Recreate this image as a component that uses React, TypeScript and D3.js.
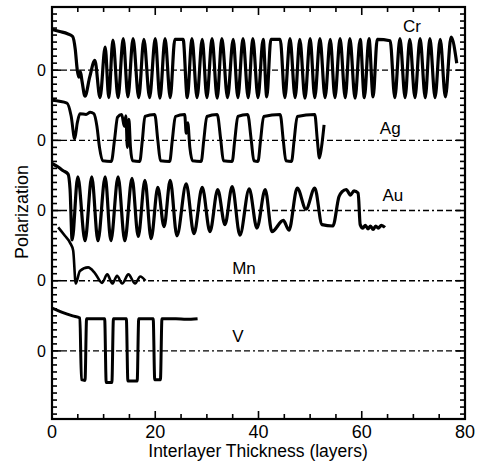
import React, { useEffect } from 'react'
import * as d3 from 'd3'

// layers on the x axis, panel offsets on y (V = 0 ... Cr = 4)
const xTicks = [0, 20, 40, 60, 80]
const panelNames = ['V', 'Mn', 'Au', 'Ag', 'Cr']

// [interlayer thickness (layers), polarization relative to the panel zero]
const crData: [number, number][] = [
  [0, 0.58], [1.5, 0.55], [3.0, 0.52], [4.0, 0.48], [4.5, 0.3], [4.9, 0.0], [5.2, -0.1], [5.5, -0.02],
  [5.8, -0.15], [6.4, -0.37], [7.3, -0.1], [8.3, 0.14], [9.3, -0.39], [10.3, 0.33], [11.0, -0.39],
  [11.8, 0.43], [12.8, -0.39], [13.8, 0.45], [14.7, -0.38], [15.7, 0.45], [16.8, -0.39], [17.8, 0.44],
  [18.9, -0.39], [20.0, 0.45], [20.9, -0.4], [21.9, 0.45], [22.9, -0.39], [23.8, 0.44], [25.4, 0.44],
  [26.2, -0.39], [27.1, 0.45], [28.1, -0.39], [29.1, 0.44], [30.0, -0.39], [31.0, 0.45], [32.0, -0.4],
  [32.9, 0.45], [34.0, -0.39], [35.1, 0.44], [36.0, -0.39], [37.0, 0.45], [38.0, -0.39], [38.9, 0.45],
  [39.9, -0.39], [40.9, 0.44], [41.6, -0.38], [42.4, 0.44], [44.2, 0.44], [45.1, -0.39], [46.1, 0.45],
  [47.1, -0.39], [48.0, 0.44], [49.0, -0.4], [50.0, 0.45], [50.9, -0.39], [51.9, 0.45], [52.9, -0.39],
  [53.9, 0.44], [54.8, -0.39], [55.8, 0.45], [56.8, -0.39], [57.7, 0.45], [58.7, -0.4], [59.7, 0.44],
  [60.5, -0.39], [61.4, 0.45], [62.2, -0.38], [63.0, 0.44], [65.5, 0.42], [66.4, -0.39], [67.4, 0.45],
  [68.4, -0.39], [69.3, 0.44], [70.3, -0.39], [71.3, 0.45], [72.3, -0.39], [73.2, 0.45], [74.2, -0.39],
  [75.2, 0.44], [76.2, -0.38], [77.3, 0.47], [78.4, 0.1],
]

const agData: [number, number][] = [
  [0, 0.57], [2.9, 0.53], [3.7, 0.35], [4.4, 0.02], [4.9, 0.25], [5.4, 0.38], [6.6, 0.37], [7.4, 0.4],
  [8.1, 0.38], [8.7, 0.2], [9.2, -0.1], [9.8, -0.29], [11.5, -0.3], [12.1, 0.0], [12.7, 0.33],
  [13.5, 0.37], [14.0, 0.2], [14.3, 0.35], [14.6, -0.1], [14.9, 0.3], [15.2, -0.1], [15.6, -0.29],
  [17.0, -0.3], [17.5, 0.0], [18.0, 0.34], [19.9, 0.37], [20.5, 0.0], [21.0, -0.29], [22.8, -0.3],
  [23.3, 0.0], [23.9, 0.34], [25.7, 0.37], [26.0, 0.1], [26.3, 0.25], [26.7, -0.1], [27.2, -0.29],
  [28.9, -0.3], [29.4, 0.0], [30.0, 0.34], [32.0, 0.37], [32.7, 0.0], [33.2, -0.29], [34.9, -0.3],
  [35.4, 0.0], [36.0, 0.34], [37.9, 0.37], [38.6, 0.0], [39.1, -0.29], [39.9, -0.3], [40.4, 0.0],
  [41.0, 0.34], [44.2, 0.37], [44.8, 0.0], [45.3, -0.29], [46.4, -0.3], [46.9, 0.0], [47.5, 0.34],
  [50.9, 0.37], [51.4, 0.0], [51.8, -0.25], [52.2, -0.1], [52.7, 0.22],
]

const auData: [number, number][] = [
  [0, 0.67], [1.2, 0.62], [2.1, 0.57], [3.1, 0.52], [3.5, 0.3], [3.9, -0.42], [5.0, 0.48], [6.4, -0.43],
  [7.7, 0.48], [8.9, -0.43], [10.3, 0.48], [11.4, -0.43], [12.8, 0.48], [14.1, -0.43], [15.5, 0.46],
  [16.7, -0.37], [18.0, 0.43], [19.2, -0.4], [20.5, 0.33], [21.7, -0.23], [22.9, 0.43], [24.2, -0.36],
  [26.0, 0.38], [27.5, -0.33], [29.1, 0.33], [30.6, -0.3], [32.1, 0.3], [33.5, -0.2], [34.9, 0.34],
  [36.4, -0.35], [38.2, 0.31], [39.7, -0.25], [41.3, 0.3], [42.6, -0.3], [44.8, -0.14], [45.9, -0.28],
  [47.5, 0.32], [49.2, 0.02], [50.9, 0.32], [52.3, -0.2], [54.4, -0.22], [55.6, 0.2], [56.2, 0.27],
  [57.0, 0.3], [57.8, 0.22], [58.5, 0.28], [59.3, 0.25], [59.7, -0.2], [60.2, -0.25], [60.7, -0.21],
  [61.2, -0.26], [61.7, -0.22], [62.2, -0.27], [62.7, -0.22], [63.2, -0.25], [63.8, -0.21], [64.5, -0.24],
]

const mnData: [number, number][] = [
  [1.2, 0.76], [2.5, 0.64], [3.5, 0.54], [4.1, 0.43], [4.6, -0.04], [5.4, 0.14], [7.0, 0.19], [8.3, 0.11],
  [9.7, -0.03], [10.7, 0.09], [11.7, -0.04], [12.6, 0.07], [13.6, -0.04], [14.8, 0.09], [16.1, -0.04],
  [17.1, 0.06], [18.1, 0.0],
]

const vData: [number, number][] = [
  [0, 0.61], [2, 0.55], [4, 0.5], [5.4, 0.47], [5.7, -0.41], [6.4, -0.42], [6.7, 0.46], [10.2, 0.46],
  [10.5, -0.45], [11.6, -0.45], [11.9, 0.46], [14.4, 0.46], [14.7, -0.43], [16.5, -0.43], [16.8, 0.46],
  [19.6, 0.46], [19.9, -0.41], [21.0, -0.41], [21.3, 0.46], [24, 0.46], [26, 0.45], [28.2, 0.46],
]

const App = () => {
  useEffect(() => {
    document.body.style.margin = '0'
  }, [])

  const x = d3.scaleLinear().domain([0, 80]).range([52, 465])
  const y = d3.scaleLinear().domain([-0.97, 4.9]).range([419, 7])
  const x0 = x(0), x1 = x(80), yTop = y(4.9), yBot = y(-0.97)

  const series = [
    { name: 'Cr', off: 4, data: crData, w: 3.2, lx: 68, ly: -38 },
    { name: 'Ag', off: 3, data: agData, w: 3, lx: 63.5, ly: -6 },
    { name: 'Au', off: 2, data: auData, w: 3.2, lx: 64, ly: -10 },
    { name: 'Mn', off: 1, data: mnData, w: 2.6, lx: 34.9, ly: -7 },
    { name: 'V', off: 0, data: vData, w: 3, lx: 34.9, ly: -9 },
  ]

  const font = 'Liberation Sans, Arial, Helvetica, sans-serif'
  const yMinor = d3.range(-9, 50).map((i) => i / 10)
  const xMinor = d3.range(0, 81, 5)

  return (
    <svg width={479} height={466} style={{ position: 'absolute', left: 0, top: 0, background: '#fff' }}>
      {/* zero lines */}
      {panelNames.map((n, k) => (
        <line key={n} x1={x0} x2={x1} y1={y(k)} y2={y(k)} stroke="#000" strokeWidth={1.4}
          strokeDasharray="6,3,6,3,6,3,6,3,2,3,6,3,2,3" />
      ))}
      {series.map((s) => {
        const line = d3.line<[number, number]>()
          .x((d) => x(d[0]))
          .y((d) => y(d[1] + s.off))
          .curve(d3.curveMonotoneX)
        return (
          <g key={s.name}>
            <path d={line(s.data) || ''} fill="none" stroke="#000" strokeWidth={s.w} strokeLinejoin="round" />
            <text x={x(s.lx)} y={y(s.off) + s.ly} fontFamily={font} fontSize={17}>{s.name}</text>
          </g>
        )
      })}
      {/* ticks */}
      {yMinor.map((v) => {
        const major = Math.abs(v - Math.round(v)) < 1e-6
        const len = major ? 9 : 5
        return (
          <g key={'y' + v}>
            <line x1={x0} x2={x0 + len} y1={y(v)} y2={y(v)} stroke="#000" strokeWidth={1.6} />
            <line x1={x1 - len} x2={x1} y1={y(v)} y2={y(v)} stroke="#000" strokeWidth={1.6} />
          </g>
        )
      })}
      {xMinor.map((v) => {
        const len = v % 20 === 0 ? 8 : 5
        return (
          <g key={'x' + v}>
            <line x1={x(v)} x2={x(v)} y1={yBot} y2={yBot - len} stroke="#000" strokeWidth={1.6} />
            <line x1={x(v)} x2={x(v)} y1={yTop} y2={yTop + len} stroke="#000" strokeWidth={1.6} />
          </g>
        )
      })}
      <rect x={x0} y={yTop} width={x1 - x0} height={yBot - yTop} fill="none" stroke="#000" strokeWidth={2.2} />
      {/* labels */}
      {panelNames.map((n, k) => (
        <text key={'l' + n} x={46} y={y(k)} dy="0.36em" textAnchor="end" fontFamily={font} fontSize={16}>0</text>
      ))}
      {xTicks.map((t) => (
        <text key={'t' + t} x={x(t)} y={438} textAnchor="middle" fontFamily={font} fontSize={18}>{t}</text>
      ))}
      <text x={258} y={457} textAnchor="middle" fontFamily={font} fontSize={17.5}>
        Interlayer Thickness (layers)
      </text>
      <text transform="translate(27.5,212) rotate(-90)" textAnchor="middle" fontFamily={font} fontSize={18}>
        Polarization
      </text>
    </svg>
  )
}

export default App
